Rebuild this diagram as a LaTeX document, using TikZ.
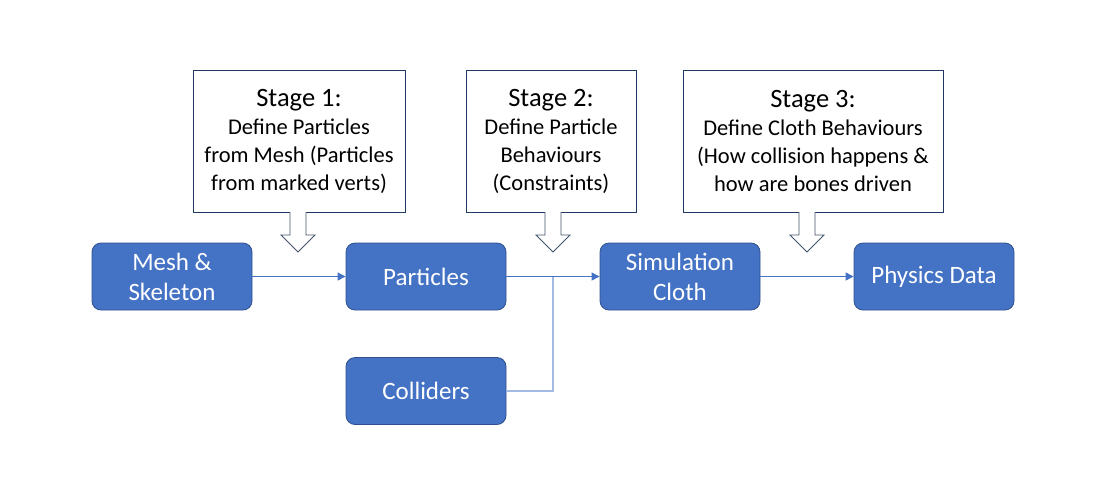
\documentclass[tikz,border=0pt]{standalone}
\usepackage{fontspec}
\setmainfont{Carlito}
\usetikzlibrary{arrows.meta}
\definecolor{boxfill}{HTML}{4472C4}
\definecolor{boxline}{HTML}{2F528F}
\definecolor{stageline}{HTML}{203864}
\definecolor{lightline}{HTML}{A3BBE3}
\definecolor{hollow}{HTML}{44546A}
\begin{document}
\begin{tikzpicture}[x=1pt,y=-1pt,
  bluebox/.style={draw=boxline,line width=0.8pt,fill=boxfill,rounded corners=9pt,minimum width=160pt,minimum height=67pt,text=white,font=\fontsize{25}{30}\selectfont,align=center,inner sep=0pt},
  stagebox/.style={draw=stageline,line width=0.8pt,fill=white,align=center,inner sep=0pt,font=\fontsize{22.5}{28}\selectfont},
  conn/.style={draw=boxfill,line width=0.9pt,-{Triangle[length=8pt,width=8pt]}},
  hollowarrow/.style={draw=hollow,line width=0.8pt,fill=white}]
\useasboundingbox (0,0) rectangle (1107,493);
\node[bluebox] (mesh) at (172,276.5) {Mesh \&\\Skeleton};
\node[bluebox] (part) at (426,276.5) {Particles};
\node[bluebox] (sim) at (680,276.5) {Simulation\\Cloth};
\node[bluebox] (phys) at (934,276.5) {Physics Data};
\node[bluebox] (coll) at (426,391) {Colliders};
\node[stagebox,minimum width=212pt,minimum height=142pt] (s1) at (299,141) {{\fontsize{26.5}{28}\selectfont Stage 1:}\\Define Particles\\from Mesh (Particles\\from marked verts)};
\node[stagebox,minimum width=170pt,minimum height=142pt] (s2) at (551,141) {{\fontsize{26.5}{28}\selectfont Stage 2:}\\Define Particle\\Behaviours\\(Constraints)};
\node[stagebox,minimum width=260pt,minimum height=142pt] (s3) at (813,141) {{\fontsize{26.5}{28}\selectfont Stage 3:}\\Define Cloth Behaviours\\(How collision happens \&\\how are bones driven};
\coordinate (j) at (553,277);
\draw[conn] (mesh.east) -- (part.west);
\draw[conn] (part.east) -- (sim.west);
\draw[conn] (sim.east) -- (phys.west);
\draw[draw=lightline,line width=1.2pt] (coll.east) -| (j);
\foreach \cx in {298,553,807}{
  \draw[hollowarrow] (\cx-8,212) -- (\cx-8,235) -- (\cx-17,235) -- (\cx,252) -- (\cx+17,235) -- (\cx+8,235) -- (\cx+8,212);
}
\end{tikzpicture}
\end{document}
